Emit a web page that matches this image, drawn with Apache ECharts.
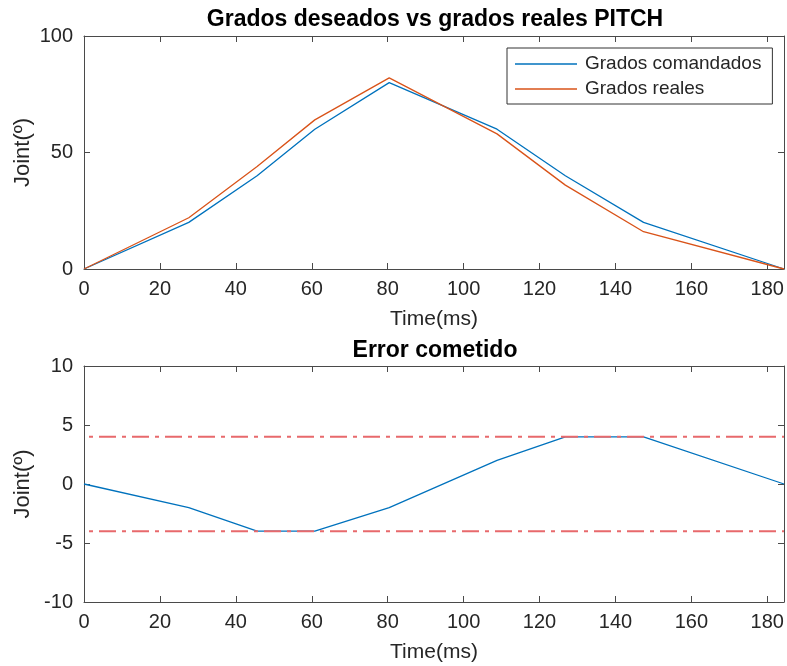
<!DOCTYPE html>
<html>
<head>
<meta charset="utf-8">
<script src="https://cdn.jsdelivr.net/npm/echarts@6/dist/echarts.min.js"></script>
<style>
  html, body { margin: 0; padding: 0; background: #fff; }
  #chart { width: 787px; height: 666px; }
</style>
</head>
<body>
<div id="chart"></div>
<script>
// Sample times (ms) of the PITCH joint trajectory
const timeMs = [0, 27.6, 45.6, 60.8, 80.4, 108.8, 126.8, 147.4, 184.4];
// Commanded and measured joint angles (degrees)
const gradosComandados = [0, 20, 40, 60, 80, 60, 40, 20, 0];
const gradosReales = [0, 22, 44, 64, 82, 58, 36, 16, 0];
// Tracking error (commanded - measured)
const errorCometido = [0, -2, -4, -4, -2, 2, 4, 4, 0];
// Tolerance band
const limiteError = 4;
const xMax = 184.4;
const xTicks = [0, 20, 40, 60, 80, 100, 120, 140, 160, 180];

const FONT = 'Liberation Sans, Arial, Helvetica, sans-serif';
const TEXT = '#262626';
const AXIS = '#4a4a4a';

const pairs = (xs, ys) => xs.map((x, i) => [x, ys[i]]);

function xAxisDef(gridIndex, position, withLabels) {
  return {
    type: 'value', gridIndex, position, min: 0, max: xMax, interval: 20,
    axisLine: { show: true, onZero: false, lineStyle: { color: AXIS, width: 1 } },
    axisTick: { show: true, inside: true, length: 6, lineStyle: { color: AXIS } },
    axisLabel: {
      show: withLabels, margin: 10, fontSize: 20, color: TEXT, fontFamily: FONT,
      formatter: v => (xTicks.indexOf(Math.round(v * 1000) / 1000) >= 0 ? String(v) : '')
    },
    splitLine: { show: false },
    name: withLabels ? 'Time(ms)' : '',
    nameLocation: 'middle', nameGap: 40, nameMoveOverlap: false,
    nameTextStyle: { fontSize: 21, color: TEXT, fontFamily: FONT }
  };
}

function yAxisDef(gridIndex, position, withLabels, min, max, interval) {
  return {
    type: 'value', gridIndex, position, min, max, interval,
    axisLine: { show: true, onZero: false, lineStyle: { color: AXIS, width: 1 } },
    axisTick: { show: true, inside: true, length: 6, lineStyle: { color: AXIS } },
    axisLabel: { show: withLabels, margin: 11, fontSize: 20, color: TEXT, fontFamily: FONT },
    splitLine: { show: false },
    name: withLabels ? 'Joint(º)' : '',
    nameLocation: 'middle', nameGap: 50, nameMoveOverlap: false,
    nameTextStyle: { fontSize: 22, color: TEXT, fontFamily: FONT }
  };
}

const limitStyle = {
  color: '#e8696c', width: 2, type: [17, 6, 4, 6], dashOffset: 18
};

const chart = echarts.init(document.getElementById('chart'), null, { renderer: 'canvas' });
chart.setOption({
  animation: false,
  backgroundColor: '#ffffff',
  textStyle: { fontFamily: FONT },
  grid: [
    { left: 84, top: 36, width: 702, height: 233, containLabel: false },
    { left: 84, top: 366, width: 702, height: 236, containLabel: false }
  ],
  xAxis: [
    xAxisDef(0, 'bottom', true),
    xAxisDef(0, 'top', false),
    xAxisDef(1, 'bottom', true),
    xAxisDef(1, 'top', false)
  ],
  yAxis: [
    yAxisDef(0, 'left', true, 0, 100, 50),
    yAxisDef(0, 'right', false, 0, 100, 50),
    yAxisDef(1, 'left', true, -10, 10, 5),
    yAxisDef(1, 'right', false, -10, 10, 5)
  ],
  graphic: [
    {
      type: 'text', x: 435, y: 20, silent: true,
      style: {
        text: 'Grados deseados vs grados reales PITCH', fill: '#000',
        font: 'bold 23px ' + FONT, textAlign: 'center', textVerticalAlign: 'middle'
      }
    },
    {
      type: 'text', x: 435, y: 351, silent: true,
      style: {
        text: 'Error cometido', fill: '#000',
        font: 'bold 23px ' + FONT, textAlign: 'center', textVerticalAlign: 'middle'
      }
    }
  ],
  legend: {
    data: ['Grados comandados', 'Grados reales'],
    orient: 'vertical', left: 507, top: 48,
    padding: [5, 11, 4, 8], itemGap: 3,
    icon: 'rect', itemWidth: 62, itemHeight: 1.4,
    backgroundColor: '#fff', borderColor: '#333', borderWidth: 1,
    textStyle: { fontSize: 19, lineHeight: 22, color: TEXT, fontFamily: FONT, padding: [0, 0, 0, 3] },
    selectedMode: false
  },
  series: [
    {
      name: 'Grados comandados', type: 'line', xAxisIndex: 0, yAxisIndex: 0,
      data: pairs(timeMs, gradosComandados), symbol: 'none',
      lineStyle: { color: '#0072BD', width: 1.3 }, itemStyle: { color: '#0072BD' }
    },
    {
      name: 'Grados reales', type: 'line', xAxisIndex: 0, yAxisIndex: 0,
      data: pairs(timeMs, gradosReales), symbol: 'none',
      lineStyle: { color: '#D95319', width: 1.3 }, itemStyle: { color: '#D95319' }
    },
    {
      name: 'Error', type: 'line', xAxisIndex: 2, yAxisIndex: 2,
      data: pairs(timeMs, errorCometido), symbol: 'none',
      lineStyle: { color: '#0072BD', width: 1.3 }
    },
    {
      name: 'Límite superior', type: 'line', xAxisIndex: 2, yAxisIndex: 2,
      data: [[0, limiteError], [xMax, limiteError]], symbol: 'none',
      lineStyle: limitStyle
    },
    {
      name: 'Límite inferior', type: 'line', xAxisIndex: 2, yAxisIndex: 2,
      data: [[0, -limiteError], [xMax, -limiteError]], symbol: 'none',
      lineStyle: limitStyle
    }
  ]
});
</script>
</body>
</html>
